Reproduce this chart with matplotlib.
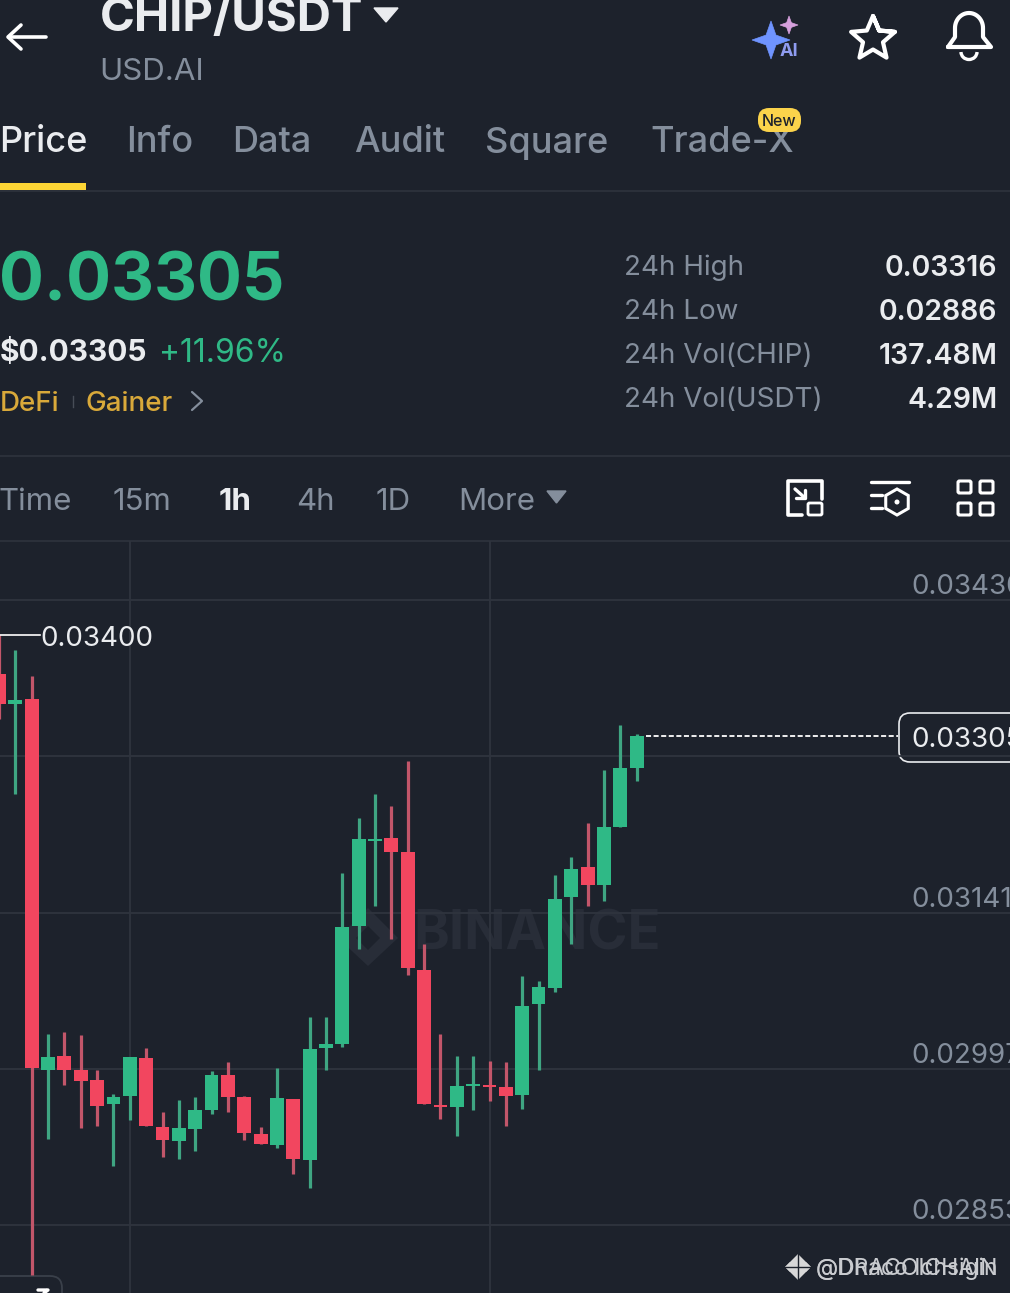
import numpy as np
import matplotlib
matplotlib.use('Agg')
from matplotlib import pyplot as plt
from matplotlib.patches import FancyBboxPatch, Polygon, Rectangle, Circle, Arc, RegularPolygon

plt.rcParams['font.family'] = ['Inter', 'DejaVu Sans']

# candle values
opens = [0.03362, 0.03334, 0.03339, 0.02996, 0.03009, 0.02996, 0.02987, 0.02965, 0.02972, 0.03007,
         0.02943, 0.02930, 0.02941, 0.02959, 0.02991, 0.02971, 0.02937, 0.02927, 0.02969, 0.02913,
         0.03016, 0.03020, 0.03129, 0.03207, 0.03210, 0.03197, 0.03088, 0.02964, 0.02962, 0.02981,
         0.02982, 0.02980, 0.02973, 0.03057, 0.03072, 0.03156, 0.03183, 0.03167, 0.03220, 0.03275]
closes = [0.03334, 0.03338, 0.02998, 0.03008, 0.02996, 0.02986, 0.02963, 0.02971, 0.03008, 0.02944,
          0.02931, 0.02942, 0.02959, 0.02991, 0.02971, 0.02938, 0.02928, 0.02970, 0.02914, 0.03015,
          0.03020, 0.03128, 0.03209, 0.03209, 0.03197, 0.03090, 0.02965, 0.02962, 0.02981, 0.02983,
          0.02980, 0.02972, 0.03055, 0.03073, 0.03154, 0.03182, 0.03167, 0.03220, 0.03275, 0.03304]
highs = [0.03398, 0.03384, 0.03360, 0.03029, 0.03031, 0.03028, 0.02996, 0.02974, 0.03008, 0.03016,
         0.02957, 0.02968, 0.02971, 0.02995, 0.03003, 0.02972, 0.02943, 0.02998, 0.02969, 0.03045,
         0.03045, 0.03178, 0.03229, 0.03251, 0.03240, 0.03281, 0.03112, 0.03029, 0.03009, 0.03009,
         0.03004, 0.03003, 0.03083, 0.03078, 0.03176, 0.03193, 0.03224, 0.03273, 0.03315, 0.03306]
lows = [0.03320, 0.03251, 0.02807, 0.02932, 0.02982, 0.02942, 0.02944, 0.02907, 0.02950, 0.02944,
        0.02916, 0.02914, 0.02921, 0.02955, 0.02957, 0.02931, 0.02928, 0.02924, 0.02900, 0.02887,
        0.02996, 0.03017, 0.03108, 0.03147, 0.03117, 0.03084, 0.02965, 0.02951, 0.02935, 0.02959,
        0.02967, 0.02944, 0.02960, 0.02996, 0.03068, 0.03112, 0.03147, 0.03152, 0.03220, 0.03263]

y_ticks = [0.03430, 0.03286, 0.03141, 0.02997, 0.02853]
y_labels = ['0.03430', '', '0.03141', '0.02997', '0.02853']
v_grid = [8.0, 30.0]
last_price = '0.03305'

tabs = ['Price', 'Info', 'Data', 'Audit', 'Square', 'Trade-X']
tab_x = [0, 127, 233, 355, 486, 651]
stats = ['24h High', '24h Low', '24h Vol(CHIP)', '24h Vol(USDT)']
stat_vals = ['0.03316', '0.02886', '137.48M', '4.29M']
ranges = ['Time', '15m', '1h', '4h', '1D', 'More']
range_x = [0, 114, 220, 297, 377, 459]

BG = '#1d222c'
GRID = '#2f343e'
GREEN = '#2fb986'
RED = '#f2465f'
MUTED = '#848e9c'
WHITE = '#eaecef'

fig = plt.figure(figsize=(10.10, 12.93), dpi=100, facecolor=BG)

# whole figure in pixels for the app chrome
ui = fig.add_axes([0, 0, 1, 1], facecolor=BG)
ui.set_xlim(0, 1010)
ui.set_ylim(1293, 0)
ui.axis('off')


def t(x, y, s, size, color=MUTED, weight='normal', ha='left', z=5):
    # inter sits a bit high and right with va center
    ui.text(x - 1.5, y + 3, s, fontsize=size, color=color, fontweight=weight, ha=ha, va='center', zorder=z)


def stroke(xs, ys, lw=2.4, color='white'):
    ui.plot(xs, ys, color=color, lw=lw, solid_capstyle='round', solid_joinstyle='round', zorder=6)


def sparkle(cx, cy, r, color):
    k = r * 0.26
    pts = [(cx, cy - r), (cx + k, cy - k), (cx + r, cy), (cx + k, cy + k),
           (cx, cy + r), (cx - k, cy + k), (cx - r, cy), (cx - k, cy - k)]
    ui.add_patch(Polygon(pts, closed=True, fc=color, ec=color, lw=0.5, zorder=6))


# header
stroke([9, 46], [37, 37], 2.6)
stroke([21, 8, 21], [25, 37, 49], 2.6)
t(101, 16, 'CHIP/USDT', 34, WHITE, 'bold')
ui.add_patch(Polygon([(374, 8), (398, 8), (386, 22)], closed=True, fc=WHITE, ec=WHITE, lw=1, zorder=6))
t(101, 69, 'USD.AI', 22.5)

sparkle(771, 40, 19, '#6f94ff')
sparkle(789, 25, 9, '#d6a0dc')
t(781, 48, 'AI', 13, '#8f9cf0', 'bold', z=7)
ang = np.deg2rad(np.arange(-90, 360, 36))
rad = np.where(np.arange(len(ang)) % 2 == 0, 23, 10.5)
stroke(873 + rad * np.cos(ang), 39 + rad * np.sin(ang), 3)
# bell
th = np.linspace(np.pi, 2 * np.pi, 30)
bx = np.r_[948, 955, 955, 969 + 14 * np.cos(th), 983, 983, 991, 948]
by = np.r_[47, 37, 29, 28 + 15 * np.sin(th), 29, 37, 47, 47]
stroke(bx, by, 3)
ui.add_patch(Arc((969, 52), 16, 15, theta1=0, theta2=180, color='white', lw=2.4, zorder=6))

# tabs
for i, tab in enumerate(tabs):
    t(tab_x[i] + 0.5, 140, tab, 26, WHITE if i == 0 else MUTED, 'medium')
ui.add_patch(Rectangle((0, 183), 86, 7, fc='#fcd535', ec='none', zorder=6))
ui.add_patch(FancyBboxPatch((758, 108), 43, 24, boxstyle='round,pad=0,rounding_size=11', fc='#fbd34b', ec='none', zorder=6))
t(781, 118, 'New', 11.5, '#1d222c', 'medium', ha='center', z=7)

# price block
t(1, 280, '0.03305', 48, GREEN, 'bold')
t(1, 350, '$0.03305', 21.5, WHITE, 'bold')
t(161, 350, '+11.96%', 23, GREEN)
t(1, 401, 'DeFi', 20, '#d9a93a', 'medium')
t(87, 401, 'Gainer', 20, '#d9a93a', 'medium')
ui.plot([73, 73], [396, 407], color='#474d57', lw=1, zorder=6)
stroke([192, 202, 192], [392, 401, 410], 1.6, MUTED)
for i in range(len(stats)):
    t(625, 265 + 44 * i, stats[i], 20)
    t(999, 265 + 44 * i, stat_vals[i], 20.5, WHITE, 'semibold', ha='right')

# separators
for y in [191, 456, 541]:
    ui.plot([0, 1010], [y, y], color=GRID, lw=1.2, zorder=1)

# range row
for i, r in enumerate(ranges):
    t(range_x[i] + 0.5, 499, r, 22.5, WHITE if r == '1h' else MUTED, 'bold' if r == '1h' else 'normal')
ui.add_patch(Polygon([(547, 491), (566, 491), (556.5, 503)], closed=True, fc=MUTED, ec=MUTED, lw=1, zorder=6))

# toolbar icons
stroke([822, 822, 788, 788, 802], [499, 481, 481, 515, 515], 2.6)
stroke([795, 805], [489, 498], 2.4)
stroke([805, 805, 796], [490, 498, 498], 2.4)
ui.add_patch(FancyBboxPatch((808, 503), 14, 12, boxstyle='round,pad=0,rounding_size=1.5', fc='none', ec='white', lw=2, zorder=6))
stroke([871, 909], [482, 482], 2.4)
stroke([871, 882], [495, 495], 2.4)
stroke([871, 882], [508, 508], 2.4)
ui.add_patch(RegularPolygon((897, 502), 6, radius=13, fc='none', ec='white', lw=2.2, zorder=6))
ui.add_patch(Circle((897, 502), 2.5, fc='white', ec='none', zorder=6))
for gx in [958, 980]:
    for gy in [481, 503]:
        ui.add_patch(FancyBboxPatch((gx, gy), 13, 12, boxstyle='round,pad=0,rounding_size=1.5', fc='none', ec='white', lw=2.2, zorder=6))

# chart
ax = fig.add_axes([0, 0, 1, (1293 - 541) / 1293], facecolor='none')
ax.set_xlim(1 / 16.35, 1011 / 16.35)
ax.set_ylim(0.02790, 0.034845)
ax.axis('off')
for p in y_ticks:
    ax.axhline(p, color=GRID, lw=1.3, zorder=1)
for v in v_grid:
    ax.axvline(v, color=GRID, lw=1.3, zorder=1)

idx = np.arange(len(opens))
o = np.array(opens)
c = np.array(closes)
col = [GREEN if c[i] >= o[i] else RED for i in idx]
wick = ['#3fa582' if c[i] >= o[i] else '#c2566a' for i in idx]

# watermark
ui.text(537, 935, 'BINANCE', fontsize=39, color='#282d38', fontweight='bold', ha='center', va='center', zorder=2)
ui.add_patch(Polygon([(368, 908), (398, 938), (368, 966), (338, 938)], closed=True, fc='#282d38', ec='none', zorder=2))
ui.add_patch(Polygon([(368, 926), (380, 938), (368, 950), (356, 938)], closed=True, fc=BG, ec='none', zorder=2))

ax.vlines(idx, lows, highs, color=wick, lw=2.3, zorder=3)
ax.bar(idx, np.maximum(np.abs(c - o), 0.00002), bottom=np.minimum(o, c), width=0.85, color=col, zorder=4)

# high marker
ax.plot([0.06, 2.5], [highs[0], highs[0]], color='white', lw=1.2, zorder=5)
ax.annotate('0.03400', (2.5, highs[0]), xytext=(0, -3), textcoords='offset points',
            fontsize=20, color=WHITE, va='center', ha='left', zorder=6)

# axis labels sit above their grid lines
for p, s in zip(y_ticks, y_labels):
    if s:
        ax.annotate(s, (911, p), xycoords=('figure pixels', 'data'), xytext=(0, 9.3), textcoords='offset points',
                    fontsize=20, color=MUTED, va='center', ha='left', zorder=6, annotation_clip=False)

# last price
last_y = closes[-1]
ax.plot([39.6, 55], [last_y, last_y], color='white', lw=1.3, ls=(0, (2.8, 1.4)), zorder=5)
ui.add_patch(FancyBboxPatch((899, 713), 130, 49, boxstyle='round,pad=0,rounding_size=11', fc=BG, ec=WHITE, lw=1.2, zorder=6))
t(913, 737, last_price, 20, WHITE, z=7)

# cut off marker, bottom left
ui.add_patch(FancyBboxPatch((-20, 1276), 82, 40, boxstyle='round,pad=0,rounding_size=12', fc=BG, ec='#3a404a', lw=1.3, zorder=5))
stroke([38, 48, 44], [1290, 1290, 1293], 2.4)

# overlapping reposter marks
for dx in [-8, 0, 8]:
    ui.add_patch(RegularPolygon((798 + dx, 1267), 4, radius=13 - abs(dx), fc='#d8d8d8', ec='none', zorder=6))
ui.plot([783, 812], [1267, 1267], color=BG, lw=1, zorder=7)
ui.plot([798, 798], [1254, 1280], color=BG, lw=1, zorder=7)
t(817, 1266, '@DRACOICHAIN', 16.5, '#c9cbcf', z=7)
t(817, 1266, '@Dhaco Ichsigin', 16.5, '#c9cbcf', z=7)

fig.savefig('out.png', dpi=100, facecolor=BG)
